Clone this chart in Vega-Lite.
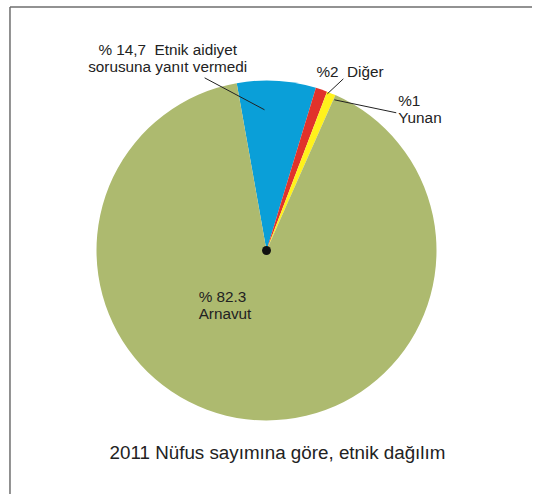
{
  "$schema": "https://vega.github.io/schema/vega-lite/v6.json",
  "autosize": {"type": "fit", "contains": "padding"},
  "width": 533,
  "height": 495,
  "padding": 0,
  "background": "white",
  "config": {"view": {"stroke": null}},
  "layer": [
    {
      "data": {"values": [
        {"x": 10, "y": 7, "x2": 533, "y2": 7},
        {"x": 10, "y": 7, "x2": 10, "y2": 495}
      ]},
      "mark": {"type": "rule", "color": "#6e6e6e", "strokeWidth": 1.5},
      "encoding": {
        "x": {"field": "x", "type": "quantitative", "scale": {"domain": [0, 533], "nice": false, "zero": false}, "axis": null},
        "y": {"field": "y", "type": "quantitative", "scale": {"domain": [0, 495], "nice": false, "zero": false, "reverse": true}, "axis": null},
        "x2": {"field": "x2"},
        "y2": {"field": "y2"}
      }
    },
    {
      "data": {"values": [
        {"group": "Etnik aidiyet sorusuna yanıt vermedi", "v": 7.5, "o": 1, "cx": 267, "cy": 251},
        {"group": "Diğer", "v": 1.1, "o": 2, "cx": 267, "cy": 251},
        {"group": "Yunan", "v": 0.85, "o": 3, "cx": 267, "cy": 251},
        {"group": "Arnavut", "v": 90.55, "o": 4, "cx": 267, "cy": 251}
      ]},
      "mark": {"type": "arc", "radius": 170},
      "encoding": {
        "x": {"field": "cx", "type": "quantitative", "scale": {"domain": [0, 533], "nice": false, "zero": false}, "axis": null},
        "y": {"field": "cy", "type": "quantitative", "scale": {"domain": [0, 495], "nice": false, "zero": false, "reverse": true}, "axis": null},
        "theta": {"field": "v", "type": "quantitative", "stack": true, "scale": {"range": [-0.1763, 6.1069]}},
        "order": {"field": "o"},
        "color": {"field": "group", "type": "nominal", "legend": null,
          "scale": {"domain": ["Etnik aidiyet sorusuna yanıt vermedi", "Diğer", "Yunan", "Arnavut"],
                    "range": ["#0a9fd8", "#e1322b", "#fff21c", "#adba6f"]}}
      }
    },
    {
      "data": {"values": [
        {"x": 205, "y": 78, "x2": 265, "y2": 110},
        {"x": 344, "y": 79, "x2": 328, "y2": 94},
        {"x": 335, "y": 100, "x2": 397, "y2": 113}
      ]},
      "mark": {"type": "rule", "color": "#222222", "strokeWidth": 1},
      "encoding": {
        "x": {"field": "x", "type": "quantitative", "scale": {"domain": [0, 533], "nice": false, "zero": false}, "axis": null},
        "y": {"field": "y", "type": "quantitative", "scale": {"domain": [0, 495], "nice": false, "zero": false, "reverse": true}, "axis": null},
        "x2": {"field": "x2"},
        "y2": {"field": "y2"}
      }
    },
    {
      "data": {"values": [{"cx": 267, "cy": 251}]},
      "mark": {"type": "circle", "color": "#111111", "opacity": 1, "size": 80},
      "encoding": {
        "x": {"field": "cx", "type": "quantitative", "scale": {"domain": [0, 533], "nice": false, "zero": false}, "axis": null},
        "y": {"field": "cy", "type": "quantitative", "scale": {"domain": [0, 495], "nice": false, "zero": false, "reverse": true}, "axis": null}
      }
    },
    {
      "data": {"values": [
        {"t": "% 14,7\u00a0 Etnik aidiyet", "x": 168, "y": 50},
        {"t": "sorusuna yanıt vermedi", "x": 168, "y": 67}
      ]},
      "mark": {"type": "text", "font": "Liberation Sans", "color": "#222222", "baseline": "middle", "align": "center", "fontSize": 15.3},
      "encoding": {
        "x": {"field": "x", "type": "quantitative", "scale": {"domain": [0, 533], "nice": false, "zero": false}, "axis": null},
        "y": {"field": "y", "type": "quantitative", "scale": {"domain": [0, 495], "nice": false, "zero": false, "reverse": true}, "axis": null},
        "text": {"field": "t"}
      }
    },
    {
      "data": {"values": [
        {"t": "%2\u00a0 Diğer", "x": 317, "y": 72},
        {"t": "%1", "x": 399, "y": 101},
        {"t": "Yunan", "x": 399, "y": 118},
        {"t": "% 82.3", "x": 199, "y": 298},
        {"t": "Arnavut", "x": 199, "y": 315}
      ]},
      "mark": {"type": "text", "font": "Liberation Sans", "color": "#222222", "baseline": "middle", "align": "left", "fontSize": 15.3},
      "encoding": {
        "x": {"field": "x", "type": "quantitative", "scale": {"domain": [0, 533], "nice": false, "zero": false}, "axis": null},
        "y": {"field": "y", "type": "quantitative", "scale": {"domain": [0, 495], "nice": false, "zero": false, "reverse": true}, "axis": null},
        "text": {"field": "t"}
      }
    },
    {
      "data": {"values": [
        {"t": "2011 Nüfus sayımına göre, etnik dağılım", "x": 278, "y": 454}
      ]},
      "mark": {"type": "text", "font": "Liberation Sans", "color": "#222222", "baseline": "middle", "align": "center", "fontSize": 18.8},
      "encoding": {
        "x": {"field": "x", "type": "quantitative", "scale": {"domain": [0, 533], "nice": false, "zero": false}, "axis": null},
        "y": {"field": "y", "type": "quantitative", "scale": {"domain": [0, 495], "nice": false, "zero": false, "reverse": true}, "axis": null},
        "text": {"field": "t"}
      }
    }
  ]
}
